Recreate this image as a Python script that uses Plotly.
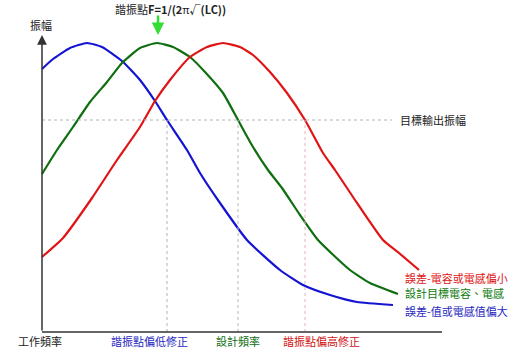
import plotly.graph_objects as go

# Frequency (x) and amplitude (y) readings for each resonance curve
blue_freq = [0, 11, 28, 45, 60, 80, 98, 113, 125, 145, 158, 178, 205, 238, 261, 288, 315, 351]
blue_amp = [263, 273, 284, 289, 285, 271, 252, 231, 212, 182, 159, 129, 92, 62, 47, 37, 30, 27]

green_freq = [0, 15, 31, 48, 65, 80, 98, 115, 131, 148, 163, 181, 196, 211, 226, 240, 258, 276, 308, 328, 356]
green_amp = [158, 182, 205, 230, 250, 269, 284, 289, 285, 275, 260, 239, 212, 185, 162, 144, 117, 92, 62, 49, 38]

red_freq = [0, 21, 50, 75, 98, 113, 128, 148, 165, 181, 198, 211, 228, 245, 263, 281, 293, 311, 341, 357, 377]
red_amp = [75, 94, 134, 172, 205, 231, 252, 275, 285, 289, 285, 277, 260, 239, 212, 179, 162, 135, 92, 79, 62]

target_amp = 212
marker_freqs = [125, 196, 263]
marker_labels = ["諧振點偏低修正", "設計頻率", "諧振點偏高修正"]
series_labels = ["誤差-電容或電感偏小", "設計目標電容、電感", "誤差-值或電感值偏大"]

BLUE = "#1414d2"
GREEN = "#0f6e0f"
RED = "#e01414"
FONT = "Noto Sans CJK TC"

fig = go.Figure()
for fx, fy, col in [(blue_freq, blue_amp, BLUE), (green_freq, green_amp, GREEN), (red_freq, red_amp, RED)]:
    fig.add_trace(go.Scatter(x=fx, y=fy, mode="lines", line=dict(color=col, width=2.2, shape="spline", smoothing=0.5),
                             showlegend=False, hoverinfo="skip"))

shapes = []
# target amplitude line
shapes.append(dict(type="line", xref="x", yref="y", x0=0, x1=350, y0=target_amp, y1=target_amp,
                   line=dict(color="#b4b4b4", width=1, dash="3px,3px")))
vcols = ["#b0b0c8", "#b8b8b8", "#e8b0c0"]
for f, c in zip(marker_freqs, vcols):
    shapes.append(dict(type="line", xref="x", yref="y", x0=f, x1=f, y0=0, y1=target_amp,
                       line=dict(color=c, width=1, dash="3px,3px")))
# axes
shapes.append(dict(type="line", xref="x", yref="y", x0=0, x1=400, y0=0, y1=0, line=dict(color="#333333", width=1.5)))

ann = []
# y axis with arrow
ann.append(dict(x=0, y=297, ax=0, ay=0, xref="x", yref="y", axref="x", ayref="y", text="",
                showarrow=True, arrowhead=2, arrowsize=1.3, arrowwidth=1.5, arrowcolor="#333333"))
# green arrow at resonance
ann.append(dict(x=116, y=297, ax=116, ay=318, xref="x", yref="y", axref="x", ayref="y", text="",
                showarrow=True, arrowhead=2, arrowsize=1.0, arrowwidth=2.5, arrowcolor="#33dd33"))

ann.append(dict(x=128, y=323, xref="x", yref="y", text="諧振點<b>F=1/(2</b>π<b>√</b><b>(LC))</b>", showarrow=False,
                font=dict(family=FONT, size=11, color="#222222")))
ann.append(dict(x=-1, y=307, xref="x", yref="y", text="振幅", showarrow=False,
                font=dict(family=FONT, size=11, color="#222222")))
ann.append(dict(x=356, y=target_amp, xref="x", yref="y", text="目標輸出振幅", showarrow=False, xanchor="left",
                font=dict(family=FONT, size=11, color="#222222")))
ann.append(dict(x=-2, y=-9, xref="x", yref="y", text="工作頻率", showarrow=False,
                font=dict(family=FONT, size=11, color="#222222")))
for f, t, c in zip([107, 196, 279], marker_labels, ["#2828c0", GREEN, "#d01414"]):
    ann.append(dict(x=f, y=-9, xref="x", yref="y", text=t, showarrow=False,
                    font=dict(family=FONT, size=11, color=c)))
for yy, t, c in zip([54, 39, 21], series_labels, ["#e01414", "#0f7a0f", "#2828c0"]):
    ann.append(dict(x=361, y=yy, xref="x", yref="y", text=t, showarrow=False, xanchor="left",
                    font=dict(family=FONT, size=11, color=c)))

fig.update_layout(
    width=512, height=348, margin=dict(l=0, r=0, t=0, b=0),
    paper_bgcolor="white", plot_bgcolor="white",
    xaxis=dict(range=[-42, 470], visible=False, fixedrange=True),
    yaxis=dict(range=[-16, 332], visible=False, fixedrange=True),
    shapes=shapes, annotations=ann,
)
fig.write_html("out.html")
